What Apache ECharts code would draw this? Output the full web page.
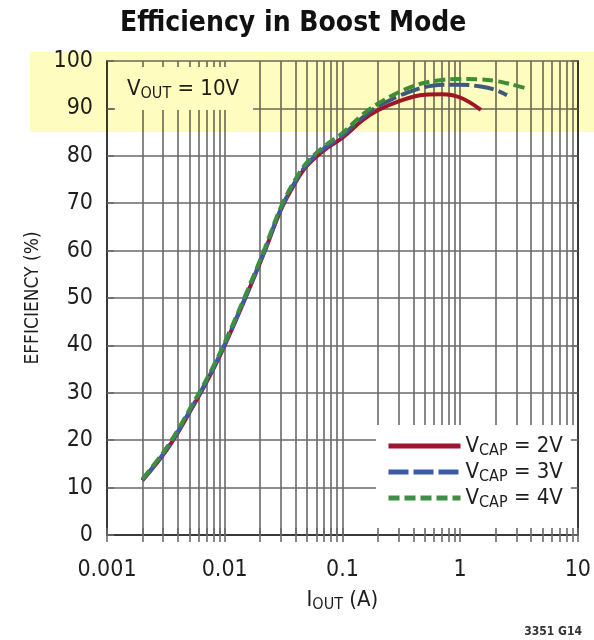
<!DOCTYPE html>
<html>
<head>
<meta charset="utf-8">
<script src="https://cdn.jsdelivr.net/npm/echarts@6/dist/echarts.min.js"></script>
<style>
  html, body { margin: 0; padding: 0; background: #ffffff; }
  #chart { width: 594px; height: 640px; }
</style>
</head>
<body>
<div id="chart"></div>
<script>
// Boost-mode efficiency vs. output current, VOUT = 10V
const ioutCap2 = [0.002, 0.003, 0.004, 0.005, 0.00625, 0.008, 0.01, 0.015, 0.022, 0.03, 0.04, 0.05, 0.07, 0.1, 0.15, 0.2, 0.3, 0.5, 0.7, 1.0, 1.5];
const effCap2  = [11.5, 16.9, 21.6, 25.8, 30.0, 35.0, 40.0, 50.0, 60.0, 68.6, 74.4, 77.9, 81.2, 83.8, 87.6, 89.6, 91.5, 92.9, 93.0, 92.3, 89.7];

const ioutCap3 = [0.002, 0.003, 0.004, 0.005, 0.00625, 0.008, 0.01, 0.015, 0.022, 0.03, 0.04, 0.05, 0.07, 0.1, 0.15, 0.2, 0.3, 0.4, 0.5, 0.7, 1.0, 1.5, 2.0, 2.5];
const effCap3  = [11.6, 17.1, 21.8, 26.0, 30.2, 35.2, 40.2, 50.2, 60.2, 68.8, 74.7, 78.2, 81.6, 84.3, 88.2, 90.4, 92.6, 93.8, 94.5, 95.0, 95.0, 94.6, 93.9, 92.8];

const ioutCap4 = [0.002, 0.003, 0.004, 0.005, 0.00625, 0.008, 0.01, 0.015, 0.022, 0.03, 0.04, 0.05, 0.07, 0.1, 0.15, 0.2, 0.3, 0.4, 0.5, 0.7, 1.0, 1.5, 2.0, 2.5, 3.0, 3.7];
const effCap4  = [11.8, 17.4, 22.2, 26.4, 30.6, 35.6, 40.6, 50.6, 60.6, 69.2, 75.1, 78.6, 82.0, 84.8, 88.8, 91.0, 93.4, 94.7, 95.4, 96.0, 96.2, 96.1, 95.8, 95.3, 94.8, 94.2];

const seriesNames = ['VCAP = 2V', 'VCAP = 3V', 'VCAP = 4V'];
const xLabelValues = [0.001, 0.01, 0.1, 1, 10];
const xLabelTexts = ['0.001', '0.01', '0.1', '1', '10'];
const yMin = 0, yMax = 100, yStep = 10;

// grid lines on the log axis: 1..9 in each decade, plus the end decade
const decades = [0.001, 0.01, 0.1, 1];
const xGridValues = [];
decades.forEach(function (d) {
  for (let m = 1; m <= 9; m++) xGridValues.push(Number((d * m).toPrecision(3)));
});
xGridValues.push(10);

const FONT = '"Liberation Sans Narrow", "DejaVu Sans Condensed", "Liberation Sans", sans-serif';
const TXT = '#1e1e1e';
const GRIDC = '#6a6a6a';
const FRAME = '#3a3a3a';

function pairs(xs, ys) { return xs.map(function (x, i) { return [x, ys[i]]; }); }

const chart = echarts.init(document.getElementById('chart'), null, { renderer: 'canvas' });

const xBase = { type: 'log', logBase: 10, min: 0.001, max: 10, gridIndex: 0 };
const yBase = { type: 'value', min: yMin, max: yMax, interval: yStep, gridIndex: 0 };

function tickAxis(extra) {
  return Object.assign({
    axisLine: { show: true, lineStyle: { color: FRAME, width: 2 } },
    axisTick: { show: true, inside: true, length: 7, lineStyle: { color: GRIDC, width: 1.6 } },
    axisLabel: { show: false },
    splitLine: { show: false },
    z: 4
  }, extra);
}

const subRich = {
  v: { fontFamily: FONT, fontSize: 22, color: TXT },
  s: { fontFamily: FONT, fontSize: 16, color: TXT, padding: [10, 0, 0, 0] }
};

const option = {
  animation: false,
  backgroundColor: '#ffffff',
  title: {
    text: 'Efficiency in Boost Mode',
    left: 115,
    top: 5,
    textStyle: { fontFamily: FONT, fontWeight: 'bold', fontSize: 28, color: '#111' }
  },
  grid: { left: 107, right: 11, top: 61, bottom: 105, containLabel: false },
  legend: {
    orient: 'vertical',
    left: 381,
    top: 430,
    itemWidth: 72,
    itemHeight: 14,
    itemGap: 2,
    data: seriesNames,
    itemStyle: { opacity: 0 },
    lineStyle: { width: 5 },
    formatter: function (name) {
      return '{v|V}{s|CAP}{v|' + name.slice(4) + '}';
    },
    textStyle: { rich: subRich },
    z: 6
  },
  xAxis: [
    Object.assign({}, xBase, {
      position: 'bottom',
      axisLine: { show: false },
      axisTick: { show: false, customValues: xGridValues },
      splitLine: { show: true, lineStyle: { color: GRIDC, width: 1.6 } },
      axisLabel: {
        show: true,
        customValues: xLabelValues,
        margin: 24,
        fontFamily: FONT, fontSize: 23, color: TXT,
        formatter: function (v) {
          const i = xLabelValues.findIndex(function (t) { return Math.abs(Math.log10(t) - Math.log10(v)) < 1e-6; });
          return i >= 0 ? xLabelTexts[i] : '';
        }
      },
      name: '{v|I}{s|OUT}{v| (A)}',
      nameLocation: 'middle',
      nameGap: 52,
      nameTextStyle: { rich: subRich },
      z: 0
    }),
    Object.assign({}, xBase, tickAxis({ position: 'bottom', axisTick: { show: true, inside: true, length: 7, customValues: xGridValues, lineStyle: { color: GRIDC, width: 1.6 } } })),
    Object.assign({}, xBase, tickAxis({ position: 'top', axisTick: { show: true, inside: true, length: 7, customValues: xGridValues, lineStyle: { color: GRIDC, width: 1.6 } } }))
  ],
  yAxis: [
    Object.assign({}, yBase, {
      position: 'left',
      axisLine: { show: false },
      axisTick: { show: false },
      splitLine: { show: true, lineStyle: { color: GRIDC, width: 1.6 } },
      axisLabel: { show: true, margin: 14, fontFamily: FONT, fontSize: 23, color: TXT },
      name: 'EFFICIENCY (%)',
      nameLocation: 'middle',
      nameGap: 64,
      nameRotate: 90,
      nameTextStyle: { fontFamily: FONT, fontSize: 19, color: TXT },
      z: 0
    }),
    Object.assign({}, yBase, tickAxis({ position: 'left' })),
    Object.assign({}, yBase, tickAxis({ position: 'right' }))
  ],
  series: [
    {
      name: seriesNames[0], type: 'line', xAxisIndex: 0, yAxisIndex: 0,
      data: pairs(ioutCap2, effCap2), smooth: 0.4, symbol: 'none', z: 5,
      lineStyle: { color: '#9e1530', width: 4 }, itemStyle: { color: '#9e1530' }
    },
    {
      name: seriesNames[1], type: 'line', xAxisIndex: 0, yAxisIndex: 0,
      data: pairs(ioutCap3, effCap3), smooth: 0.4, symbol: 'none', z: 5,
      lineStyle: { color: '#3d5aa8', width: 4, type: [20, 5] }, itemStyle: { color: '#3d5aa8' }
    },
    {
      name: seriesNames[2], type: 'line', xAxisIndex: 0, yAxisIndex: 0,
      data: pairs(ioutCap4, effCap4), smooth: 0.4, symbol: 'none', z: 5,
      lineStyle: { color: '#3e8f42', width: 4, type: [11, 5] }, itemStyle: { color: '#3e8f42' }
    }
  ]
};

chart.setOption(option);

// masks behind the ticks, the note and legend text; tinted band over the upper range
const yTop = chart.convertToPixel({ yAxisIndex: 0 }, yMax);
const yBand = chart.convertToPixel({ yAxisIndex: 0 }, 85);
const xRight = chart.convertToPixel({ xAxisIndex: 0 }, 10);
const xLeft = chart.convertToPixel({ xAxisIndex: 0 }, 0.001);
const yBottom = chart.convertToPixel({ yAxisIndex: 0 }, yMin);

chart.setOption({
  graphic: [
    { type: 'rect', z: 2, shape: { x: xLeft + 8, y: yTop + 6, width: 138, height: 43 }, style: { fill: '#ffffff' } },
    { type: 'rect', z: 2, shape: { x: 376, y: 425, width: xRight - 376, height: yBottom - 425 }, style: { fill: '#ffffff' } },
    {
      type: 'text', z: 6, x: 127, y: 76,
      style: { text: '{v|V}{s|OUT}{v| = 10V}', rich: subRich, fill: TXT }
    },
    {
      type: 'text', z: 6, x: 582, y: 626,
      style: { text: '3351 G14', font: 'bold 12px ' + FONT, fill: '#333', align: 'right' }
    },
    {
      type: 'rect', z: 20, silent: true,
      shape: { x: 30, y: yTop - 9, width: 594 - 30, height: yBand - yTop + 9 },
      style: { fill: '#fffcc0', blend: 'multiply' }
    }
  ]
});
</script>
</body>
</html>
